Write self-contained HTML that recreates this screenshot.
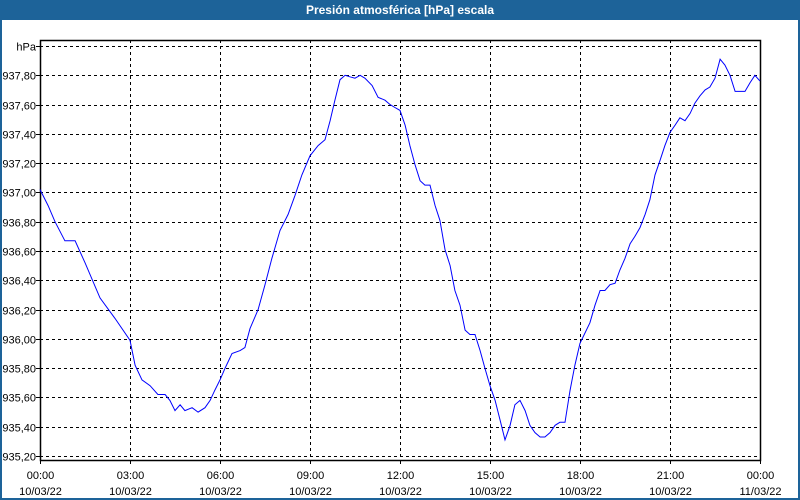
<!DOCTYPE html>
<html><head><meta charset="utf-8"><style>
html,body{margin:0;padding:0;width:800px;height:500px;overflow:hidden;background:#fff;font-family:"Liberation Sans",sans-serif}
#frame{position:absolute;left:0;top:0;width:796px;height:498px;border:2px solid #1d6399;border-top:none;background:#fff}
#title{position:absolute;left:0;top:0;width:800px;height:20px;background:#1d6399;color:#fff;font-weight:bold;font-size:12px;text-align:center;line-height:20px}
svg{position:absolute;left:0;top:0}
</style></head><body>
<div id="frame"></div>
<div id="title">Presión atmosférica [hPa] escala</div>
<svg id="chart" width="800" height="500"></svg>
<script>
const times=[0,.27,.5,.83,1.17,1.5,2,2.5,3,3.17,3.4,3.67,3.93,4.17,4.33,4.5,4.67,4.83,5.07,5.27,5.5,5.67,5.83,6,6.17,6.4,6.67,6.83,7,7.27,7.5,7.73,8,8.27,8.5,8.73,9,9.27,9.5,9.67,9.83,10,10.17,10.33,10.5,10.67,10.83,11.07,11.27,11.5,11.67,11.83,12,12.17,12.33,12.5,12.67,12.83,13,13.17,13.33,13.5,13.67,13.83,14,14.17,14.33,14.5,14.67,14.83,15,15.17,15.33,15.5,15.67,15.83,16,16.17,16.33,16.5,16.67,16.83,17,17.17,17.33,17.5,17.67,17.83,18,18.33,18.5,18.67,18.83,19,19.17,19.33,19.5,19.67,19.83,20,20.17,20.33,20.5,20.67,20.83,21,21.17,21.33,21.5,21.67,21.83,22,22.17,22.33,22.5,22.67,22.83,23,23.17,23.33,23.5,23.67,23.83,24];
const pressure=[937.02,936.91,936.80,936.67,936.67,936.52,936.28,936.14,935.99,935.82,935.72,935.68,935.62,935.62,935.58,935.51,935.55,935.51,935.53,935.50,935.53,935.58,935.65,935.72,935.80,935.90,935.92,935.94,936.07,936.20,936.37,936.55,936.74,936.85,936.98,937.12,937.25,937.32,937.36,937.49,937.63,937.77,937.80,937.79,937.78,937.80,937.78,937.73,937.65,937.63,937.60,937.58,937.56,937.46,937.32,937.19,937.08,937.05,937.05,936.91,936.81,936.61,936.50,936.33,936.23,936.06,936.03,936.03,935.92,935.80,935.68,935.58,935.45,935.31,935.41,935.55,935.58,935.51,935.41,935.36,935.33,935.33,935.36,935.41,935.43,935.43,935.65,935.82,935.97,936.11,936.23,936.33,936.33,936.37,936.38,936.47,936.55,936.65,936.70,936.76,936.85,936.95,937.12,937.22,937.32,937.41,937.46,937.51,937.49,937.54,937.61,937.66,937.70,937.72,937.78,937.91,937.87,937.80,937.69,937.69,937.69,937.75,937.80,937.76];
const yTicks=[935.2,935.4,935.6,935.8,936.0,936.2,936.4,936.6,936.8,937.0,937.2,937.4,937.6,937.8];
const xTickHours=[0,3,6,9,12,15,18,21,24];
const xTickTimes=["00:00","03:00","06:00","09:00","12:00","15:00","18:00","21:00","00:00"];
const xTickDates=["10/03/22","10/03/22","10/03/22","10/03/22","10/03/22","10/03/22","10/03/22","10/03/22","11/03/22"];

const L=40,R=760,T=40,B=460,yMin=935.2,yMax=938.0,yMinPx=456,yMaxPx=46;
const xs=h=>L+(h/24)*(R-L);
const ys=v=>yMinPx-(v-yMin)/(yMax-yMin)*(yMinPx-yMaxPx);
const svg=document.getElementById('chart');
const NS='http://www.w3.org/2000/svg';
function mk(tag,a){const e=document.createElementNS(NS,tag);for(const k in a)e.setAttribute(k,a[k]);svg.appendChild(e);return e;}

const plot=mk('rect',{x:L+.5,y:T+.5,width:R-L-1,height:B-T-1,fill:'#fff',stroke:'none'});



yTicks.concat([938.0]).forEach((v,i)=>{
  const y=Math.round(ys(v))+.5;
  const g=mk('line',{x1:L,x2:R,y1:y,y2:y,stroke:'#000','stroke-dasharray':'3,3','stroke-width':1});
  
  
  const tk=mk('line',{x1:L-4,x2:L,y1:y,y2:y,stroke:'#000'});
  
  
  const t=mk('text',{x:L-4,y:y+4,'text-anchor':'end','font-size':11,fill:'#000'});
  t.textContent=v===938.0?'hPa':v.toFixed(2).replace('.',',');
  
  
});
xTickHours.forEach((h,i)=>{
  const x=Math.round(xs(h))+.5;
  if(i>0&&i<xTickHours.length-1){
    const g=mk('line',{x1:x,x2:x,y1:T,y2:B,stroke:'#000','stroke-dasharray':'3,3'});
    
    
  }
  const tk=mk('line',{x1:x,x2:x,y1:B,y2:B+4,stroke:'#000'});
  
  
  const t1=mk('text',{x:x,y:479,'text-anchor':'middle','font-size':11,fill:'#000'});
  t1.textContent=xTickTimes[i];
  
  
  const t2=mk('text',{x:x,y:495,'text-anchor':'middle','font-size':11,fill:'#000'});
  t2.textContent=xTickDates[i];
  
  
});
const border=mk('rect',{x:L+.5,y:T+.5,width:R-L,height:B-T,fill:'none',stroke:'#000','stroke-width':1.5});


const pts=times.map((h,i)=>xs(h).toFixed(1)+','+ys(pressure[i]).toFixed(1)).join(' ');
const line=mk('polyline',{points:pts,fill:'none',stroke:'#0000ff','stroke-width':1});


</script>
</body></html>
